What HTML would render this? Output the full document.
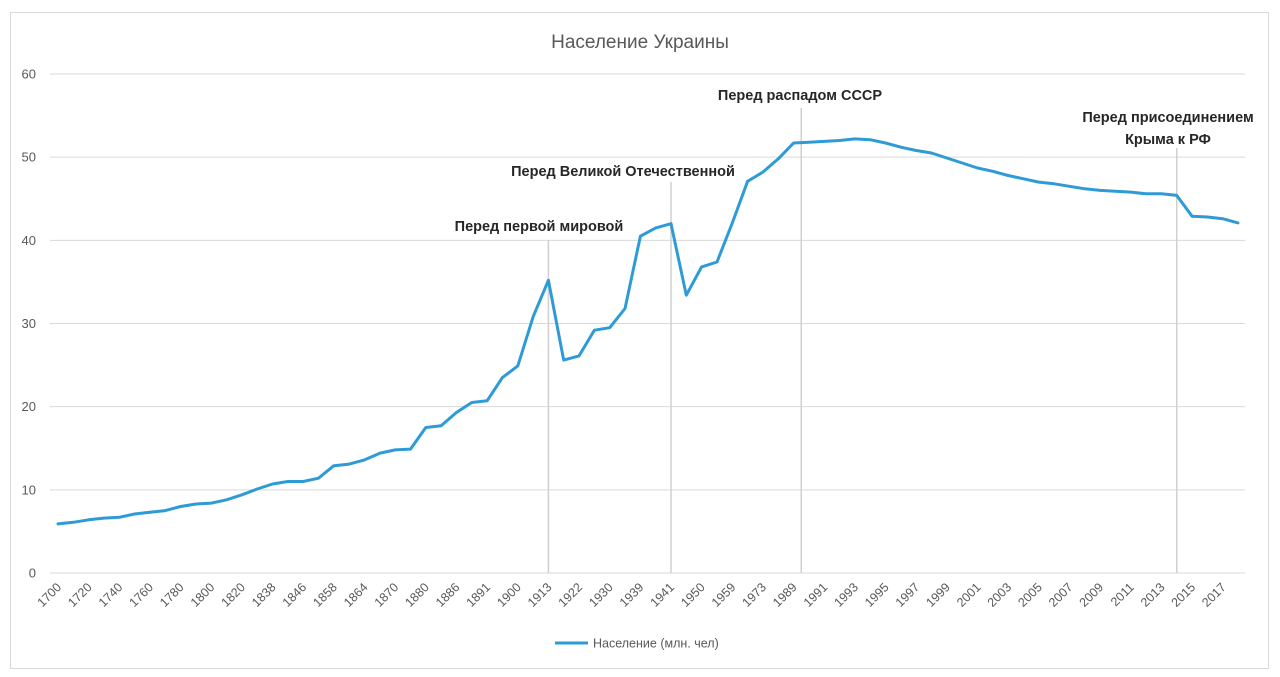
<!DOCTYPE html>
<html><head><meta charset="utf-8"><style>
html,body{margin:0;padding:0;background:#fff;}
svg{display:block;font-family:"Liberation Sans","DejaVu Sans",sans-serif;}
</style></head><body>
<svg id="chart" width="1280" height="677" viewBox="0 0 1280 677">
<rect x="10.5" y="12.5" width="1258" height="656" fill="#fff" stroke="#d9d9d9"/>
<text x="640" y="48" text-anchor="middle" font-size="19" fill="#595959">Население Украины</text>
<g id="grid"></g><g id="ylabels"></g><g id="xlabels"></g><g id="vlines"></g><g id="series"></g><g id="annots"></g>
<g>
<line x1="555" y1="643" x2="588" y2="643" stroke="#2e9bd6" stroke-width="3"/>
<text x="593" y="647.5" font-size="12.5" fill="#595959">Население (млн. чел)</text>
</g>
</svg>
<script>
const years=["1700","1710","1720","1730","1740","1750","1760","1770","1780","1790","1800","1810","1820","1830","1838","1842","1846","1851","1858","1861","1864","1867","1870","1875","1880","1883","1886","1889","1891","1897","1900","1906","1913","1917","1922","1926","1930","1935","1939","1940","1941","1945","1950","1955","1959","1970","1973","1979","1989","1990","1991","1992","1993","1994","1995","1996","1997","1998","1999","2000","2001","2002","2003","2004","2005","2006","2007","2008","2009","2010","2011","2012","2013","2014","2015","2016","2017","2018"];
const population=[5.9,6.1,6.4,6.6,6.7,7.1,7.3,7.5,8.0,8.3,8.4,8.8,9.4,10.1,10.7,11.0,11.0,11.4,12.9,13.1,13.6,14.4,14.8,14.9,17.5,17.7,19.3,20.5,20.7,23.5,24.9,30.8,35.2,25.6,26.1,29.2,29.5,31.8,40.5,41.5,42.0,33.4,36.8,37.4,42.1,47.1,48.2,49.8,51.7,51.8,51.9,52.0,52.2,52.1,51.7,51.2,50.8,50.5,49.9,49.3,48.7,48.3,47.8,47.4,47.0,46.8,46.5,46.2,46.0,45.9,45.8,45.6,45.6,45.4,42.9,42.8,42.6,42.1];
const yTicks=[0,10,20,30,40,50,60];
const annotIndex=[32,40,48.5,73];
const annotTop=[240,182,108,148];
const annotText=[["Перед первой мировой"],["Перед Великой Отечественной"],["Перед распадом СССР"],["Перед присоединением","Крыма к РФ"]];
const annotX=[539,623,800,1168];
const annotY=[231,176,100,122];

const NS="http://www.w3.org/2000/svg";
const X0=58,DX=15.325,Y0=573,YS=(573-74)/60;
const x=i=>X0+i*DX, y=v=>Y0-v*YS;
function mk(t,a,p){const e=document.createElementNS(NS,t);for(const k in a)e.setAttribute(k,a[k]);p.appendChild(e);return e;}
const grid=document.getElementById('grid'),yl=document.getElementById('ylabels');
yTicks.forEach(v=>{
 const l=mk('line',{x1:50,x2:1245,y1:y(v),y2:y(v),stroke:'#d9d9d9','stroke-width':1},grid);
 
 
 const t=mk('text',{x:36,y:y(v)+4.5,'text-anchor':'end','font-size':13,fill:'#595959'},yl);
 t.textContent=v;
 
 
});
const xl=document.getElementById('xlabels');
years.forEach((yr,i)=>{
 if(i%2)return;
 const t=mk('text',{x:x(i)+4,y:588,'text-anchor':'end','font-size':12.5,fill:'#595959',transform:`rotate(-45 ${x(i)+4} 588)`},xl);
 t.textContent=yr;
 
 
});
const vl=document.getElementById('vlines'),an=document.getElementById('annots');
annotIndex.forEach((ix,k)=>{
 const l=mk('line',{x1:x(ix),x2:x(ix),y1:Y0,y2:annotTop[k],stroke:'#d0d0d0','stroke-width':1.5},vl);
 
 
 annotText[k].forEach((s,j)=>{
  const t=mk('text',{x:annotX[k],y:annotY[k]+j*22,'text-anchor':'middle','font-size':14.5,'font-weight':'bold',fill:'#262626'},an);
  t.textContent=s;
  
  
 });
});
const pts=population.map((v,i)=>x(i).toFixed(1)+','+y(v).toFixed(1)).join(' ');
const pl=mk('polyline',{points:pts,fill:'none',stroke:'#2e9bd6','stroke-width':3,'stroke-linejoin':'round','stroke-linecap':'round'},document.getElementById('series'));


</script>
</body></html>
